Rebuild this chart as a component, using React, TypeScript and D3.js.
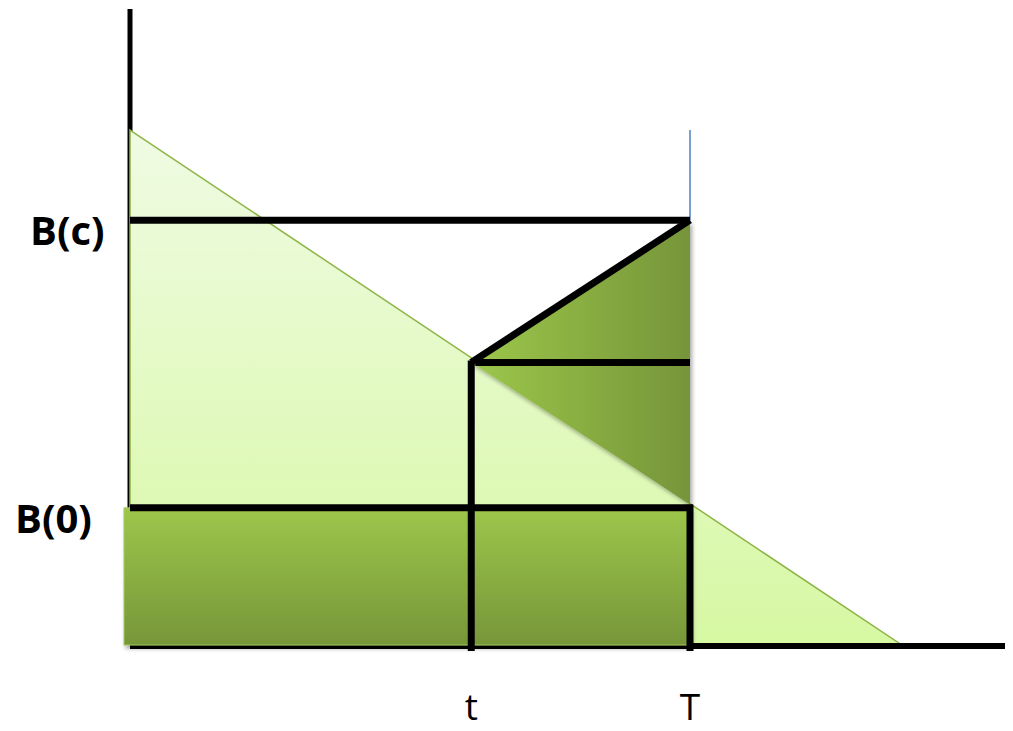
import React from "react";
import * as d3 from "d3";

// x positions in time units (origin, t, T, where the budget hits zero, axis end)
const xMarks = { origin: 0, t: 39, T: 64, zero: 88.2, end: 100 };
// y values: budget levels
const yLevels = { B0: 21.6, mid: 44.5, atT: 22.2, Bc: 66.9, top: 81.1, axisTop: 100 };

const xTickLabels = [
  { key: "t", value: xMarks.t },
  { key: "T", value: xMarks.T },
];
const yTickLabels = [
  { key: "B(c)", value: yLevels.Bc },
  { key: "B(0)", value: yLevels.B0 },
];

const width = 1013;
const height = 731;

export default function App() {
  const x = d3.scaleLinear().domain([0, 100]).range([130, 1005]);
  const y = d3.scaleLinear().domain([0, 100]).range([645, 10]);

  const line = d3
    .line<[number, number]>()
    .x((d) => x(d[0]))
    .y((d) => y(d[1]));

  // light triangle (linear decay)
  const lightTri: [number, number][] = [
    [xMarks.origin, yLevels.top],
    [xMarks.zero, 0],
    [xMarks.origin, 0],
  ];
  // dark triangle between t and T
  const darkTri: [number, number][] = [
    [xMarks.t, yLevels.mid],
    [xMarks.T, yLevels.Bc],
    [xMarks.T, yLevels.atT],
  ];

  const black = "#000";

  return (
    <svg
      width={width}
      height={height}
      style={{ position: "absolute", left: 0, top: 0, background: "#fff" }}
      fontFamily="'Open Sans', sans-serif"
    >
      <defs>
        <linearGradient id="lightGrad" x1="0" y1="0" x2="0" y2="1">
          <stop offset="0%" stopColor="#effbe3" />
          <stop offset="100%" stopColor="#d7f8a3" />
        </linearGradient>
        <linearGradient id="rectGrad" x1="0" y1="0" x2="0" y2="1">
          <stop offset="0%" stopColor="#9dc64b" />
          <stop offset="100%" stopColor="#779639" />
        </linearGradient>
        <linearGradient id="triGrad" x1="0" y1="0" x2="1" y2="0">
          <stop offset="0%" stopColor="#9cc74a" />
          <stop offset="100%" stopColor="#76953a" />
        </linearGradient>
        <filter id="shadow" x="-10%" y="-10%" width="120%" height="130%">
          <feDropShadow dx="2" dy="3" stdDeviation="2" floodColor="#000" floodOpacity="0.35" />
        </filter>
      </defs>

      {/* vertical axis */}
      <line x1={x(0)} x2={x(0)} y1={y(yLevels.axisTop) - 1} y2={y(0)} stroke={black} strokeWidth={5} />

      {/* light triangle */}
      <path d={line(lightTri) + "Z"} fill="url(#lightGrad)" stroke="#8db446" strokeWidth={1.5} />

      {/* horizontal axis */}
      <line x1={x(0)} x2={x(xMarks.end)} y1={y(0) + 1} y2={y(0) + 1} stroke={black} strokeWidth={6} />

      {/* dark rectangle under B(0) */}
      <rect
        x={x(0) - 6}
        y={y(yLevels.B0)}
        width={x(xMarks.T) - x(0) + 6}
        height={y(0) - y(yLevels.B0)}
        fill="url(#rectGrad)"
        stroke="#a3c760"
        strokeWidth={1}
        filter="url(#shadow)"
      />

      {/* dark triangle */}
      <path d={line(darkTri) + "Z"} fill="url(#triGrad)" filter="url(#shadow)" />

      {/* thin blue line above T */}
      <line x1={x(xMarks.T)} x2={x(xMarks.T)} y1={y(yLevels.top)} y2={y(yLevels.Bc)} stroke="#4f81bd" strokeWidth={1.5} />

      {/* B(c) line */}
      <line x1={x(0)} x2={x(xMarks.T)} y1={y(yLevels.Bc)} y2={y(yLevels.Bc)} stroke={black} strokeWidth={7} />
      {/* diagonal */}
      <path
        d={line([[xMarks.t, yLevels.mid], [xMarks.T, yLevels.Bc]]) ?? ""}
        stroke={black}
        strokeWidth={7}
        fill="none"
      />
      {/* mid horizontal */}
      <line x1={x(xMarks.t) + 4} x2={x(xMarks.T)} y1={y(yLevels.mid)} y2={y(yLevels.mid)} stroke={black} strokeWidth={7} />
      {/* t vertical */}
      <line x1={x(xMarks.t)} x2={x(xMarks.t)} y1={y(yLevels.mid) - 2} y2={y(0) + 6} stroke={black} strokeWidth={7} />
      {/* B(0) line */}
      <line x1={x(0)} x2={x(xMarks.T) + 3} y1={y(yLevels.B0)} y2={y(yLevels.B0)} stroke={black} strokeWidth={7} />
      {/* T vertical */}
      <line x1={x(xMarks.T)} x2={x(xMarks.T)} y1={y(yLevels.B0) - 3} y2={y(0) + 6} stroke={black} strokeWidth={7} />

      {/* labels */}
      {yTickLabels.map((d) => (
        <text
          key={d.key}
          x={d.key === "B(c)" ? 30 : 15}
          y={y(d.value) + 25}
          fontSize={40}
          fontWeight="bold"
          fill={black}
        >
          {d.key}
        </text>
      ))}
      {xTickLabels.map((d) => (
        <text key={d.key} x={x(d.value)} y={720} fontSize={37} textAnchor="middle" fill={black}>
          {d.key}
        </text>
      ))}
    </svg>
  );
}
